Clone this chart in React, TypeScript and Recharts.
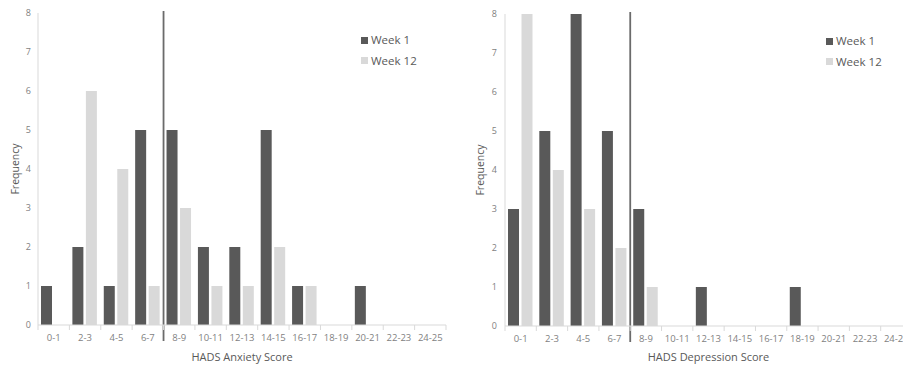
import React from 'react';
import { BarChart, Bar, XAxis, YAxis, ReferenceLine } from 'recharts';

const categories = ['0-1', '2-3', '4-5', '6-7', '8-9', '10-11', '12-13', '14-15', '16-17', '18-19', '20-21', '22-23', '24-25'];
const anxietyWeek1 = [1, 2, 1, 5, 5, 2, 2, 5, 1, 0, 1, 0, 0];
const anxietyWeek12 = [0, 6, 4, 1, 3, 1, 1, 2, 1, 0, 0, 0, 0];
const depressionWeek1 = [3, 5, 8, 5, 3, 0, 1, 0, 0, 1, 0, 0, 0];
const depressionWeek12 = [8, 4, 3, 2, 1, 0, 0, 0, 0, 0, 0, 0, 0];
const yTicks = [0, 1, 2, 3, 4, 5, 6, 7, 8];
const seriesNames = ['Week 1', 'Week 12'];
const cutoffCategory = '8-9';

const DARK = '#595959';
const LIGHT = '#d9d9d9';
const AXIS = '#d9d9d9';
const TEXT = '#7f7f7f';
const FONT = '"Open Sans", "Noto Sans", sans-serif';

const anxietyData = categories.map((c, i) => ({ cat: c, w1: anxietyWeek1[i], w12: anxietyWeek12[i] }));
const depressionData = categories.map((c, i) => ({ cat: c, w1: depressionWeek1[i], w12: depressionWeek12[i] }));

function makeTick(band: number, n: number) {
  return (props: any) => {
    const { x, y, payload, index } = props;
    return (
      <g>
        <line x1={x - band / 2} x2={x - band / 2} y1={y} y2={y + 5} stroke={AXIS} strokeWidth={1} />
        {index === n - 1 && <line x1={x + band / 2} x2={x + band / 2} y1={y} y2={y + 5} stroke={AXIS} strokeWidth={1} />}
        <text x={x} y={y + 16} textAnchor="middle" fill={TEXT} fontSize={9.5} fontFamily={FONT}>
          {payload.value}
        </text>
      </g>
    );
  };
}

const divider = (props: any) => {
  const top = Math.min(props.y1, props.y2) - 2;
  const bottom = Math.max(props.y1, props.y2) + 16;
  return <line x1={props.x1} x2={props.x2} y1={top} y2={bottom} stroke="#6b6b6b" strokeWidth={1.8} />;
};

const yLabel = (offset: number) => (props: any) => {
  const vb = props.viewBox;
  const cx = vb.x + offset;
  const cy = vb.y + vb.height / 2;
  return (
    <text x={cx} y={cy} transform={`rotate(-90, ${cx}, ${cy})`} textAnchor="middle" dominantBaseline="central" fill={DARK} fontSize={10.5} fontFamily={FONT}>
      Frequency
    </text>
  );
};

const Legend2 = ({ left, top }: { left: number; top: number }) => (
  <div style={{ position: 'absolute', left, top, fontFamily: FONT, fontSize: 11.5, color: DARK, lineHeight: '20.5px' }}>
    {seriesNames.map((name, i) => (
      <div key={name} style={{ display: 'flex', alignItems: 'center', whiteSpace: 'nowrap' }}>
        <span style={{ display: 'inline-block', width: 7, height: 7, background: i === 0 ? DARK : LIGHT, marginRight: 3 }} />
        <span>{name}</span>
      </div>
    ))}
  </div>
);

interface PanelProps {
  data: any[];
  width: number;
  left: number;
  yAxisWidth: number;
  top: number;
  bottomY: number;
  right: number;
  xLabel: string;
  yLabelOffset: number;
  yTickMargin: number;
}

const Panel = ({ data, width, left, yAxisWidth, top, bottomY, right, xLabel, yLabelOffset, yTickMargin }: PanelProps) => {
  const height = 366;
  const xAxisHeight = height - bottomY;
  const band = (width - yAxisWidth - right) / categories.length;
  return (
    <div style={{ position: 'absolute', left, top: 0 }}>
      <BarChart width={width} height={height} data={data} margin={{ top, right, bottom: 0, left: 0 }} barCategoryGap={3} barGap={2.5}>
        <YAxis
          width={yAxisWidth}
          domain={[0, 8]}
          ticks={yTicks}
          interval={0}
          axisLine={{ stroke: AXIS }}
          tickLine={false}
          tickSize={0}
          tickMargin={yTickMargin}
          tick={{ fill: TEXT, fontSize: 9, fontFamily: FONT }}
          label={yLabel(yLabelOffset)}
        />
        <XAxis
          dataKey="cat"
          height={xAxisHeight}
          interval={0}
          axisLine={{ stroke: AXIS }}
          tickLine={false}
          tickSize={0}
          tickMargin={0}
          tick={makeTick(band, categories.length)}
          label={{ value: xLabel, position: 'insideBottom', offset: 5, fill: DARK, fontSize: 11, fontFamily: FONT }}
        />
        <Bar dataKey="w1" name={seriesNames[0]} fill={DARK} isAnimationActive={false} />
        <Bar dataKey="w12" name={seriesNames[1]} fill={LIGHT} isAnimationActive={false} />
        <ReferenceLine x={cutoffCategory} position="start" shape={divider} ifOverflow="visible" />
      </BarChart>
    </div>
  );
}

export default function App() {
  return (
    <div style={{ position: 'fixed', left: 0, top: 0, width: 903, height: 366, overflow: 'hidden', background: '#fff' }}>
      <Panel data={anxietyData} width={450} left={0} yAxisWidth={38} top={13} bottomY={325} right={4} xLabel="HADS Anxiety Score" yLabelOffset={15} yTickMargin={7} />
      <Panel data={depressionData} width={462} left={453} yAxisWidth={52} top={14} bottomY={326} right={3} xLabel="HADS Depression Score" yLabelOffset={27} yTickMargin={8} />
      <Legend2 left={361} top={30} />
      <Legend2 left={826} top={31} />
    </div>
  );
}
